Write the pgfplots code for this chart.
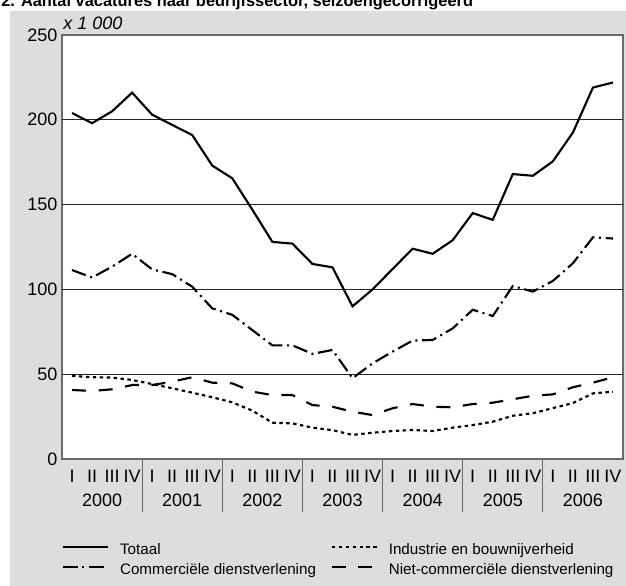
\documentclass[border=0pt]{standalone}
\usepackage{pgfplots}
\pgfplotsset{compat=1.18}
\usepackage{fontspec}
\setmainfont{Liberation Sans}
\definecolor{bggray}{RGB}{220,221,223}
\definecolor{framegray}{RGB}{105,105,105}
\begin{document}
\begin{tikzpicture}[x=0.75pt,y=0.75pt]
\useasboundingbox (0,0) rectangle (626,586);
\clip (0,0) rectangle (626,586);
\fill[bggray] (10,0) rectangle (626,575);
\node[anchor=base west, inner sep=0pt, font=\fontsize{12.3}{13}\selectfont\bfseries] at (1,579) {2. Aantal vacatures naar bedrijfssector, seizoengecorrigeerd};
\node[anchor=base west, inner sep=0pt, font=\fontsize{13.5}{15}\selectfont\itshape] at (63,556) {x 1 000};
\begin{axis}[
  at={(46.5pt,95.25pt)}, anchor=south west,
  scale only axis, width=420.75pt, height=318pt,
  xmin=-0.5, xmax=27.5, ymin=0, ymax=250,
  axis background/.style={fill=white},
  axis line style={framegray, line width=0.9pt},
  xtick={0,...,27},
  xticklabels={I,II,III,IV,I,II,III,IV,I,II,III,IV,I,II,III,IV,I,II,III,IV,I,II,III,IV,I,II,III,IV},
  ytick={0,50,...,250},
  major tick length=0pt,
  tick pos=left,
  /pgf/number format/assume math mode=true,
  tick label style={font=\fontsize{13.5}{15}\selectfont},
  xticklabel style={anchor=center, yshift=-13.3pt},
  extra y ticks={50,100,150,200},
  extra y tick labels={},
  extra y tick style={grid=major, major grid style={black!85, line width=0.6pt}},
  extra x ticks={3.5,7.5,11.5,15.5,19.5,23.5},
  extra x tick labels={},
  extra x tick style={major tick length=39.75pt, tick align=outside, tick style={framegray, line width=0.8pt}},
  clip=false,
  legend columns=2,
  legend cell align=left,
  legend style={at={(0,-0.1988)}, anchor=north west, draw=none, fill=none, inner sep=0pt, outer sep=0pt,
    font=\fontsize{11.4}{13}\selectfont,
    nodes={inner sep=0pt, text height=8.5pt, text depth=2.5pt},
    /tikz/every odd column/.append style={column sep=8.2pt},
    /tikz/every even column/.append style={column sep=11pt},
    row sep=4pt},
  legend image code/.code={\draw[#1] (0pt,3pt) -- (33.75pt,3pt);},
]
\addplot[black, line width=1.6pt] coordinates {
(0,204) (1,198) (2,205) (3,216) (4,203) (5,197) (6,191) (7,173) (8,165.5) (9,147) (10,128) (11,127) (12,115) (13,113) (14,90) (15,100) (16,112) (17,124) (18,121) (19,129) (20,145) (21,141) (22,168) (23,167) (24,175.5) (25,192.5) (26,219) (27,222)};
\addlegendentry{Totaal}
\addplot[black, line width=1.6pt, dash pattern=on 2.6pt off 2.6pt] coordinates {
(0,49) (1,48.2) (2,48) (3,46.6) (4,44.2) (5,41.7) (6,39.1) (7,36.4) (8,33.4) (9,28.5) (10,21.4) (11,21) (12,18.5) (13,17) (14,14.2) (15,15.5) (16,16.5) (17,17.1) (18,16.5) (19,18.5) (20,20) (21,22) (22,25.5) (23,27) (24,30) (25,33) (26,38.7) (27,39.7)};
\addlegendentry{Industrie en bouwnijverheid}
\addplot[black, line width=1.6pt, dash pattern=on 11pt off 3.5pt on 1.5pt off 3.5pt] coordinates {
(0,111.4) (1,107) (2,113.4) (3,121) (4,111.8) (5,109) (6,101.6) (7,88.8) (8,85) (9,76) (10,67) (11,67) (12,62) (13,64.3) (14,47.6) (15,56.4) (16,63.3) (17,69.8) (18,70.2) (19,77) (20,88) (21,84.3) (22,102) (23,98.7) (24,105) (25,115.4) (26,130.7) (27,130)};
\addlegendentry{Commerciële dienstverlening}
\addplot[black, line width=1.6pt, dash pattern=on 10.5pt off 9.5pt] coordinates {
(0,40.7) (1,40.1) (2,41.1) (3,43.6) (4,43.6) (5,45.6) (6,48.2) (7,45) (8,44.6) (9,39.7) (10,37.7) (11,37.7) (12,31.8) (13,30.8) (14,27.9) (15,25.9) (16,29.9) (17,32.4) (18,30.8) (19,30.5) (20,32.4) (21,33.2) (22,35.2) (23,37.3) (24,38.1) (25,42.3) (26,45) (27,48.2)};
\addlegendentry{Niet-commerciële dienstverlening}
\node[anchor=center, font=\fontsize{13.5}{15}\selectfont] at (axis cs:1.5,-24.2) {2000};
\node[anchor=center, font=\fontsize{13.5}{15}\selectfont] at (axis cs:5.5,-24.2) {2001};
\node[anchor=center, font=\fontsize{13.5}{15}\selectfont] at (axis cs:9.5,-24.2) {2002};
\node[anchor=center, font=\fontsize{13.5}{15}\selectfont] at (axis cs:13.5,-24.2) {2003};
\node[anchor=center, font=\fontsize{13.5}{15}\selectfont] at (axis cs:17.5,-24.2) {2004};
\node[anchor=center, font=\fontsize{13.5}{15}\selectfont] at (axis cs:21.5,-24.2) {2005};
\node[anchor=center, font=\fontsize{13.5}{15}\selectfont] at (axis cs:25.5,-24.2) {2006};
\end{axis}
\end{tikzpicture}
\end{document}
